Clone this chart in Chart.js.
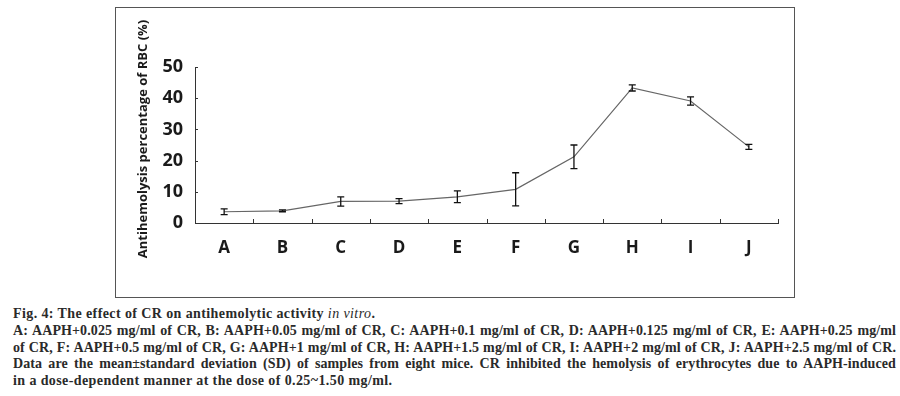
<!DOCTYPE html>
<html>
<head>
<meta charset="utf-8">
<script src="https://cdn.jsdelivr.net/npm/chart.js@4/dist/chart.umd.min.js"></script>
<style>
    body { margin: 0; background: #fff; width: 900px; height: 396px; position: relative; overflow: hidden; }
    #frame { position: absolute; left: 115px; top: 7px; width: 678px; height: 289px; border: 1px solid #555; }
    #chart { position: absolute; left: 0; top: 0; }
    #caption { position: absolute; left: 13px; top: 306px; width: 883px; font-family: 'Liberation Serif', serif; font-weight: bold; font-size: 14px; line-height: 16.8px; color: #2a2a2a; }
    #caption div { white-space: nowrap; letter-spacing: 0.4px; }
    #caption .just { text-align: justify; text-align-last: justify; white-space: normal; height: 16.8px; letter-spacing: 0.1px; }
</style>
</head>
<body>
<div id="frame"></div>
<canvas id="chart" width="900" height="300"></canvas>
<div id="caption">
    <div>Fig. 4: The effect of CR on antihemolytic activity <i style="font-weight:normal">in vitro</i>.</div>
    <div class="just">A: AAPH+0.025 mg/ml of CR, B: AAPH+0.05 mg/ml of CR, C: AAPH+0.1 mg/ml of CR, D: AAPH+0.125 mg/ml of CR, E: AAPH+0.25 mg/ml</div>
    <div class="just">of CR, F: AAPH+0.5 mg/ml of CR, G: AAPH+1 mg/ml of CR, H: AAPH+1.5 mg/ml of CR, I: AAPH+2 mg/ml of CR, J: AAPH+2.5 mg/ml of CR.</div>
    <div class="just">Data are the mean±standard deviation (SD) of samples from eight mice. CR inhibited the hemolysis of erythrocytes due to AAPH-induced</div>
    <div>in a dose-dependent manner at the dose of 0.25~1.50 mg/ml.</div>
</div>
<script>
const categories = ['A', 'B', 'C', 'D', 'E', 'F', 'G', 'H', 'I', 'J'];
const meanValues = [3.6, 3.9, 6.9, 7.0, 8.4, 10.8, 21.2, 43.3, 39.1, 24.4];
const sdValues = [0.9, 0.3, 1.5, 0.8, 1.9, 5.3, 3.8, 1.0, 1.3, 0.8];
const yTicks = [0, 10, 20, 30, 40, 50];
const yTitle = 'Antihemolysis percentage of RBC (%)';

// error bars, inward tick marks and the rotated y title
const extras = {
    id: 'extras',
    afterDatasetsDraw(chart) {
        const { ctx, scales: { x, y }, chartArea } = chart;
        ctx.save();
        ctx.strokeStyle = '#111';
        ctx.lineWidth = 1.3;
        meanValues.forEach((m, i) => {
            const px = x.getPixelForValue(i);
            const top = y.getPixelForValue(m + sdValues[i]);
            const bot = y.getPixelForValue(m - sdValues[i]);
            ctx.beginPath();
            ctx.moveTo(px, top); ctx.lineTo(px, bot);
            ctx.moveTo(px - 3.5, top); ctx.lineTo(px + 3.5, top);
            ctx.moveTo(px - 3.5, bot); ctx.lineTo(px + 3.5, bot);
            ctx.stroke();
        });
        // x ticks between categories, pointing up
        ctx.strokeStyle = '#333';
        ctx.lineWidth = 1;
        for (let i = 1; i <= categories.length; i++) {
            const px = Math.round((x.getPixelForValue(i - 1) + x.getPixelForValue(i)) / 2) + 0.5;
            ctx.beginPath();
            ctx.moveTo(px, chartArea.bottom); ctx.lineTo(px, chartArea.bottom - 4);
            ctx.stroke();
        }
        // y ticks pointing right
        yTicks.forEach(v => {
            const py = Math.round(y.getPixelForValue(v)) + 0.5;
            ctx.beginPath();
            ctx.moveTo(chartArea.left, py); ctx.lineTo(chartArea.left + 3, py);
            ctx.stroke();
        });
        ctx.translate(143, 139);
        ctx.rotate(-Math.PI / 2);
        ctx.font = 'bold 13px "Open Sans"';
        ctx.fillStyle = '#1a1a1a';
        ctx.textAlign = 'center';
        ctx.textBaseline = 'middle';
        ctx.fillText(yTitle, 0, 0);
        ctx.restore();
    }
};

new Chart(document.getElementById('chart').getContext('2d'), {
    type: 'line',
    data: {
        labels: categories,
        datasets: [{
            data: meanValues,
            borderColor: '#666',
            borderWidth: 1.2,
            pointRadius: 0,
            tension: 0
        }]
    },
    plugins: [extras],
    options: {
        responsive: false,
        animation: false,
        layout: { padding: { left: 135, top: 67, right: 122, bottom: 0 } },
        plugins: { legend: { display: false }, tooltip: { enabled: false } },
        scales: {
            x: {
                offset: true,
                grid: { display: false, drawTicks: false },
                border: { display: true, color: '#333', width: 1 },
                ticks: { color: '#1a1a1a', padding: 15, maxRotation: 0, font: { family: 'Open Sans', weight: 'bold', size: 17 } },
                afterFit: s => { s.height = 77; }
            },
            y: {
                min: 0,
                max: 50,
                afterBuildTicks: s => { s.ticks = yTicks.map(v => ({ value: v })); },
                grid: { display: false, drawTicks: false },
                border: { display: true, color: '#333', width: 1 },
                ticks: { color: '#1a1a1a', padding: 12, font: { family: 'Open Sans', weight: 'bold', size: 18 } },
                afterFit: s => { s.width = 60; }
            }
        }
    }
});
</script>
</body>
</html>
